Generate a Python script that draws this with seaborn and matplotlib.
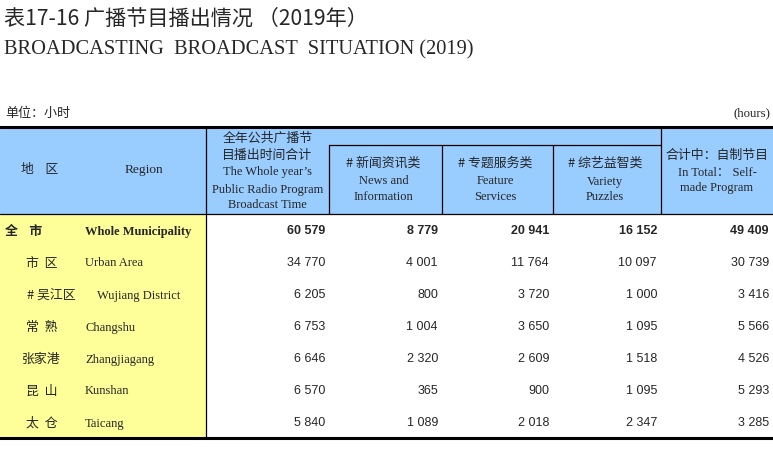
import numpy as np
import pandas as pd
import matplotlib
matplotlib.use("Agg")
import matplotlib.pyplot as plt
from matplotlib.patches import Rectangle
import seaborn as sns

# ── Data ──────────────────────────────────────────────────────
regions_cn = ["全    市", "市  区", "# 吴江区", "常  熟", "张家港", "昆  山", "太  仓"]
regions_en = ["Whole Municipality", "Urban Area", "Wujiang District",
              "Changshu", "Zhangjiagang", "Kunshan", "Taicang"]
total    = [60579, 34770, 6205, 6753, 6646, 6570, 5840]
news     = [8779, 4001, 800, 1004, 2320, 365, 1089]
feature  = [20941, 11764, 3720, 3650, 2609, 900, 2018]
variety  = [16152, 10097, 1000, 1095, 1518, 1095, 2347]
selfmade = [49409, 30739, 3416, 5566, 4526, 5293, 3285]

df = pd.DataFrame({"total": total, "news": news, "feature": feature,
                   "variety": variety, "selfmade": selfmade},
                  index=regions_en)

title_cn = "表17-16 广播节目播出情况 （2019年）"
title_en = "BROADCASTING  BROADCAST  SITUATION (2019)"
unit_cn = "单位：小时"
unit_en = "(hours)"

# ── Style ─────────────────────────────────────────────────────
sns.set_theme(style="white")
CJK = ["Noto Sans CJK SC", "DejaVu Sans"]
SERIF = ["Liberation Serif", "Noto Sans CJK SC"]
SANS = ["Liberation Sans", "DejaVu Sans"]
plt.rcParams["font.family"] = CJK

BLUE = "#99CCFF"
YELLOW = "#FFFF99"

# layout (pixels)
W, H = 773, 471
top, mid, head_bot, bot = 127, 145, 214, 438
col_x = [0, 206, 329, 442, 553, 661, 773]
row_h = (bot - head_bot) / len(df)

fig = plt.figure(figsize=(W / 100, H / 100), dpi=100)
ax = fig.add_axes([0, 0, 1, 1])
ax.set_xlim(0, W)
ax.set_ylim(H, 0)
ax.axis("off")

# titles
ax.text(4, 18.5, title_cn, fontsize=15.2, family=CJK, va="center", ha="left")
ax.text(4, 49.5, title_en, fontsize=14.7, family=SERIF, va="center", ha="left")
ax.text(5, 113, unit_cn, fontsize=9.4, family=CJK, va="center", ha="left")
ax.text(770, 113, unit_en, fontsize=9.2, family=SERIF, va="center", ha="right")

# backgrounds
ax.add_patch(Rectangle((0, top), W, head_bot - top, color=BLUE, lw=0, zorder=0))
ax.add_patch(Rectangle((0, head_bot), col_x[1], bot - head_bot, color=YELLOW, lw=0, zorder=0))

# rules
ax.plot([0, W], [top, top], color="black", lw=2.2, zorder=3)
ax.plot([0, W], [bot, bot], color="black", lw=2.2, zorder=3)
ax.plot([0, W], [head_bot, head_bot], color="black", lw=0.9, zorder=3)
ax.plot([col_x[2], col_x[5]], [mid, mid], color="black", lw=0.9, zorder=3)
ax.plot([col_x[1], col_x[1]], [top, bot], color="black", lw=0.9, zorder=3)
ax.plot([col_x[5], col_x[5]], [top, head_bot], color="black", lw=0.9, zorder=3)
for x in col_x[2:5]:
    ax.plot([x, x], [mid, head_bot], color="black", lw=0.9, zorder=3)

# header
hs = 9
cs = 9.3
ax.text(40, 170, "地    区", fontsize=cs, family=CJK, ha="center", va="center")
ax.text(144, 170.5, "Region", fontsize=9.6, family=SERIF, ha="center", va="center")

cx = (col_x[1] + col_x[2]) / 2
ax.text(cx, 138, "全年公共广播节", fontsize=cs, family=CJK, ha="center", va="center")
ax.text(cx, 155.5, "目播出时间合计", fontsize=cs, family=CJK, ha="center", va="center")
ax.text(cx, 172.5, "The Whole year’s", fontsize=hs, family=SERIF, ha="center", va="center")
ax.text(cx, 189.5, "Public Radio Program", fontsize=hs, family=SERIF, ha="center", va="center")
ax.text(cx, 205.5, "Broadcast Time", fontsize=hs, family=SERIF, ha="center", va="center")

sub_heads = [("# 新闻资讯类", "News and", "Information"),
             ("# 专题服务类", "Feature", "Services"),
             ("# 综艺益智类", "Variety", "Puzzles")]
for i, (cn, en1, en2) in enumerate(sub_heads):
    cx = (col_x[2 + i] + col_x[3 + i]) / 2 - 2
    ax.text(cx, 163.5, cn, fontsize=cs, family=CJK, ha="center", va="center")
    ax.text(cx, 181.5, en1, fontsize=hs, family=SERIF, ha="center", va="center")
    ax.text(cx, 197.5, en2, fontsize=hs, family=SERIF, ha="center", va="center")

cx = (col_x[5] + col_x[6]) / 2
ax.text(cx, 155.5, "合计中：自制节目", fontsize=cs, family=CJK, ha="center", va="center")
ax.text(cx, 172.5, "In Total： Self-", fontsize=hs, family=SERIF, ha="center", va="center")
ax.text(cx, 188.5, "made Program", fontsize=hs, family=SERIF, ha="center", va="center")

# body
cn_x = [5, 26, 27, 26, 22, 26, 26]
en_x = [85, 85, 97, 85, 85, 85, 85]
for i, (cn, en) in enumerate(zip(regions_cn, regions_en)):
    y = head_bot + row_h * (i + 0.5) + 1.5
    wt = "bold" if i == 0 else "normal"
    ax.text(cn_x[i], y, cn, fontsize=cs, family=CJK, weight=wt, ha="left", va="center")
    ax.text(en_x[i], y, en, fontsize=hs, family=SERIF, weight=wt, ha="left", va="center")
    for j, col in enumerate(df.columns):
        v = df[col].iloc[i]
        ax.text(col_x[j + 2] - 4, y, f"{v:,}".replace(",", " "),
                fontsize=hs, family=SANS, weight=wt, ha="right", va="center")

fig.savefig("out.png", dpi=100)
